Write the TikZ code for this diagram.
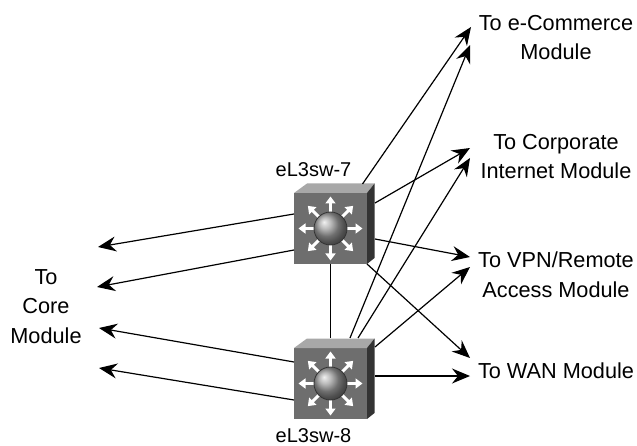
\documentclass[tikz,border=0pt]{standalone}
\usepackage{fontspec}
\setmainfont{Liberation Sans}
\usetikzlibrary{arrows.meta,calc}
\definecolor{frontc}{HTML}{6E6E6E}
\definecolor{topc}{HTML}{A8A8A8}
\definecolor{sidec}{HTML}{333333}
\tikzset{
 lbl/.style={font=\fontsize{21.7}{29.5}\selectfont,align=center,text=black,inner sep=0pt},
 swlbl/.style={font=\fontsize{20}{24}\selectfont,text=black,inner sep=0pt},
 link/.style={draw=black,line width=1.2pt,-{Stealth[length=18pt,width=15pt,inset=6pt]}},
 plainlink/.style={draw=black,line width=1.2pt},
 whitearrow/.style={draw=white,line width=3pt,-{Triangle[length=7pt,width=10pt]}},
 switchbody/.style={minimum width=73pt,minimum height=71pt,inner sep=0pt,outer sep=0pt,fill=frontc},
 pics/l3switch/.style={code={
   \fill[topc] (-36.5,-35.5) -- (-23.5,-45) -- (44,-45) -- (36.5,-35.5) -- cycle;
   \fill[sidec] (36.5,-35.5) -- (44,-45) -- (44,29.5) -- (36.5,35.5) -- cycle;
   \foreach \a in {0,45,...,315}{
     \draw[whitearrow] (\a:14) -- (\a:32);
   }
   \shade[ball color=gray!75!white] (0,0) circle (16.5);
   \draw[black!80,line width=.8pt] (0,0) circle (16.5);
 }}
}
\begin{document}
\begin{tikzpicture}[x=1pt,y=-1pt]
\useasboundingbox (0,0) rectangle (637,446);
% switches
\node[switchbody] (s7) at (330.5,228.5) {};
\pic at (330.5,228.5) {l3switch};
\node[switchbody] (s8) at (330.5,383.5) {};
\pic at (330.5,383.5) {l3switch};
% labels
\node[swlbl] (l7) at (313.5,169.5) {eL3sw-7};
\node[swlbl] (l8) at (313.5,435.5) {eL3sw-8};
\node[lbl] (core) at (46,306.5) {To\\Core\\Module};
\node[lbl] (ec) at (556,37.5) {To e-Commerce\\Module};
\node[lbl] (corp) at (556,156.5) {To Corporate\\Internet Module};
\node[lbl] (vpn) at (556,274.5) {To VPN/Remote\\Access Module};
\node[lbl] (wan) at (556,371) {To WAN Module};
% free ends
\coordinate (a1) at (98,247);
\coordinate (a2) at (97,287);
\coordinate (a3) at (99,328);
\coordinate (a4) at (99,368);
\coordinate (ec1) at (471,27);
\coordinate (ec2) at (470,45);
\coordinate (co1) at (470,148);
\coordinate (co2) at (470,158);
\coordinate (vp1) at (470,257);
\coordinate (vp2) at (470,267);
\coordinate (wa1) at (470,358);
\coordinate (wa2) at (470,376);
% connectors
\draw[plainlink] (s7.south) -- ($(s8.north)+(0,-10)$);
\draw[link] ($(s7.west)+(0,-14.5)$) -- (a1);
\draw[link] ($(s7.west)+(0,21.5)$) -- (a2);
\draw[link] ($(s8.west)+(0,-21.5)$) -- (a3);
\draw[link] ($(s8.west)+(0,16.5)$) -- (a4);
\draw[link] ($(s7.north)+(32,-9)$) -- (ec1);
\draw[link] ($(s8.north)+(19.5,-10)$) -- (ec2);
\draw[link] ($(s7.east)+(8,-25.5)$) -- (co1);
\draw[link] ($(s8.north)+(27.5,-10)$) -- (co2);
\draw[link] ($(s7.east)+(8,10.5)$) -- (vp1);
\draw[link] ($(s8.east)+(8,-36.5)$) -- (vp2);
\draw[link] (s7.south east) -- (wa1);
\draw[link] ($(s8.east)+(8,-7.5)$) -- (wa2);
\end{tikzpicture}
\end{document}
